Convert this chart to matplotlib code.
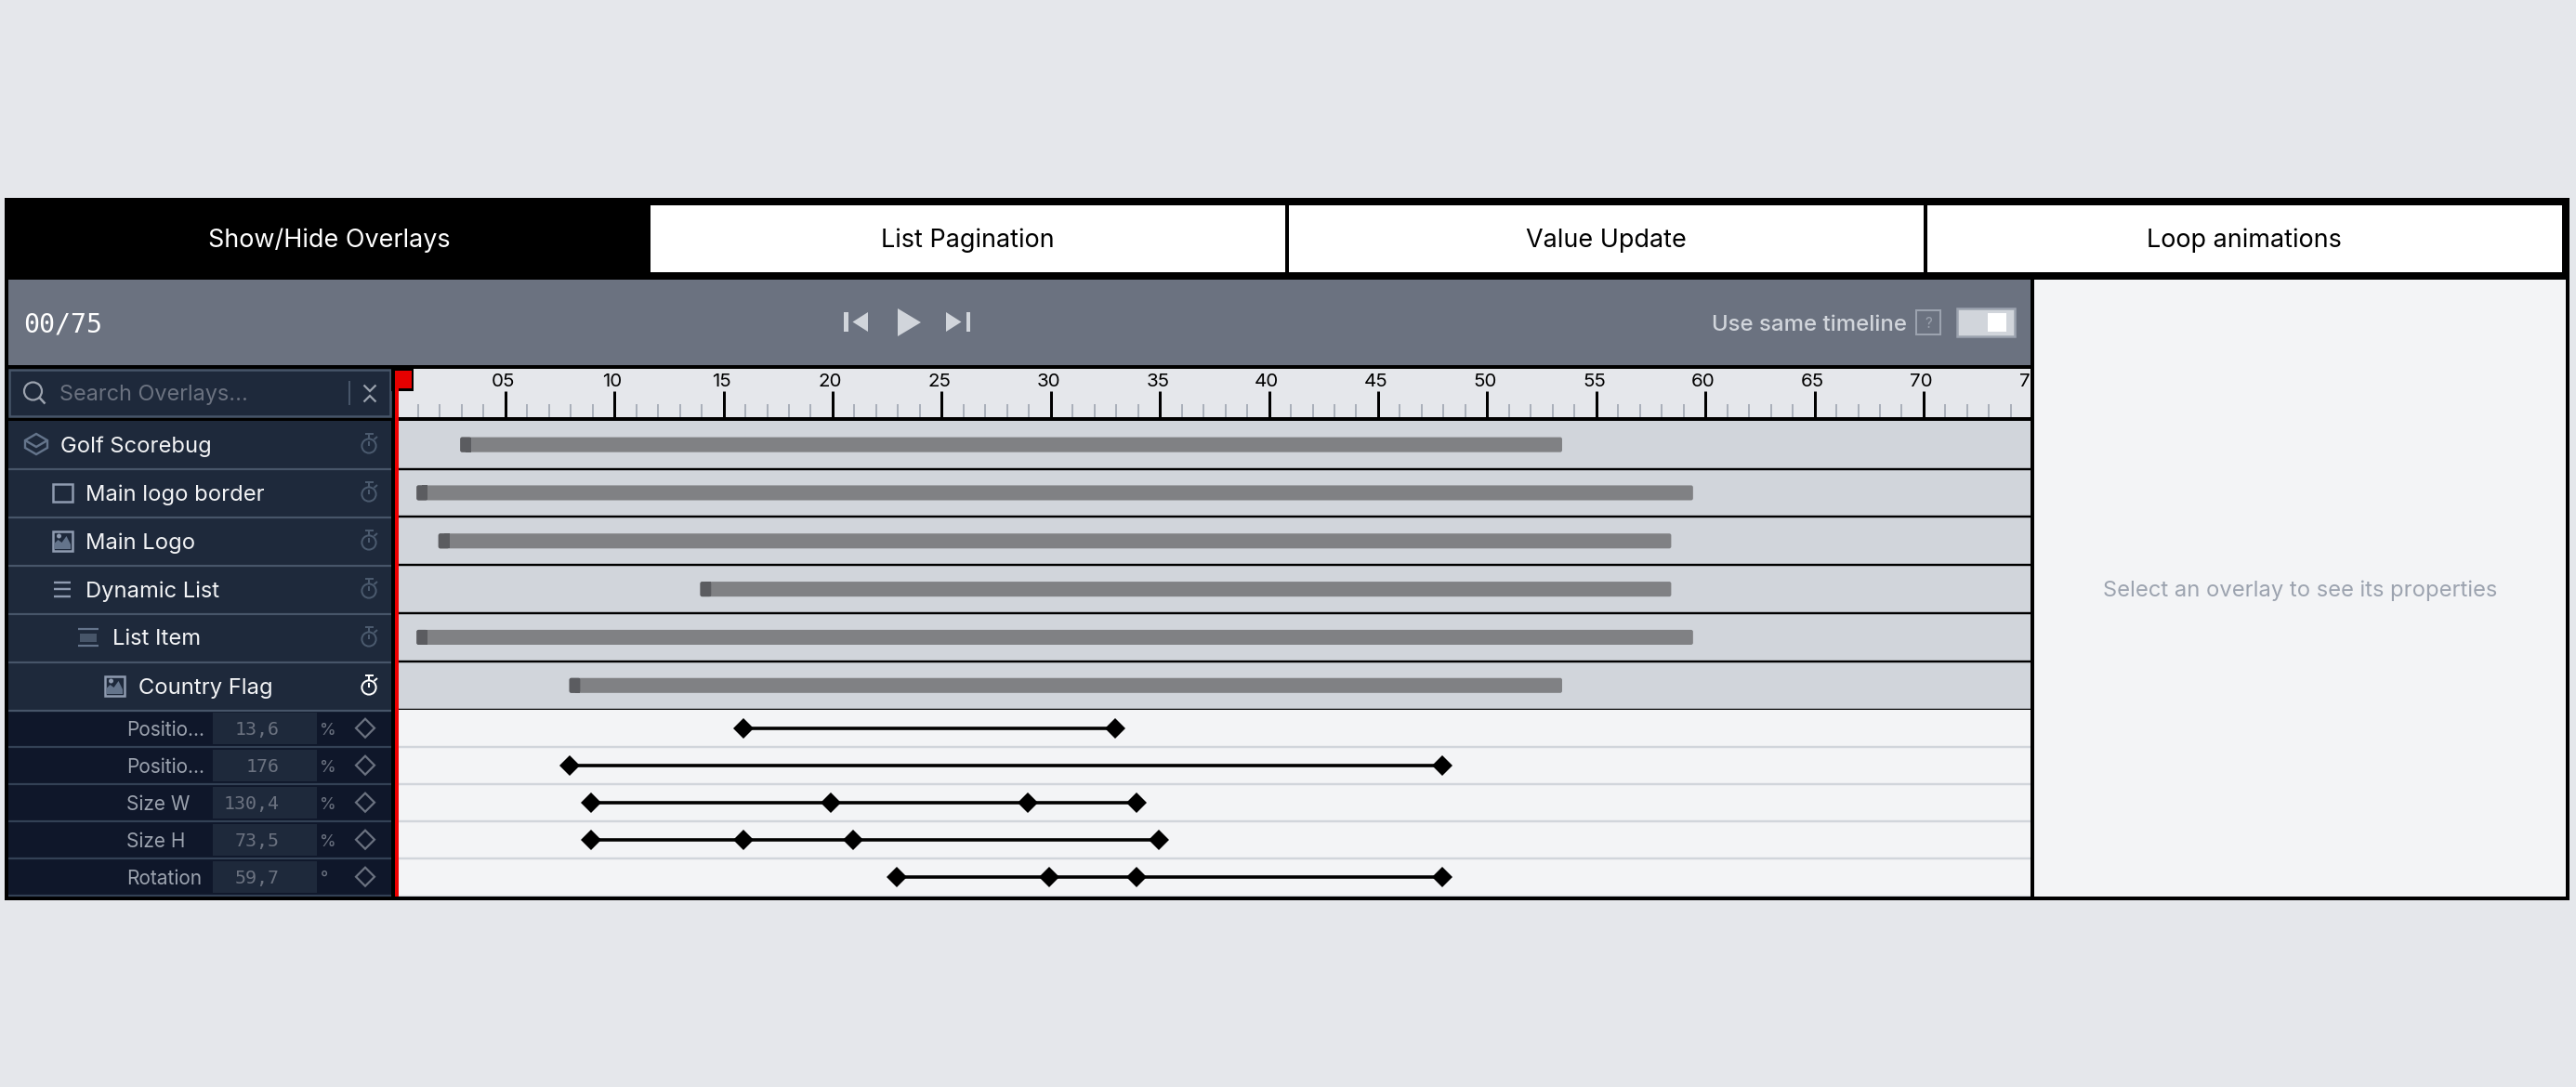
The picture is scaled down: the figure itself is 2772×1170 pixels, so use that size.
import matplotlib
matplotlib.use("Agg")
import matplotlib.pyplot as plt
from matplotlib.patches import Rectangle, Polygon, Circle, FancyBboxPatch
from matplotlib.transforms import ScaledTranslation

plt.rcParams['font.family'] = ['Inter', 'DejaVu Sans']

# ---------- data ----------
tab_names = ["Show/Hide Overlays", "List Pagination", "Value Update", "Loop animations"]
layer_names = ["Golf Scorebug", "Main logo border", "Main Logo", "Dynamic List", "List Item", "Country Flag"]
bar_starts = [3, 1, 2, 14, 1, 8]
bar_ends = [53.5, 59.5, 58.5, 58.5, 59.5, 53.5]
prop_names = ["Positio…", "Positio…", "Size W", "Size H", "Rotation"]
prop_values = ["13,6", "176", "130,4", "73,5", "59,7"]
prop_units = ["%", "%", "%", "%", "°"]
keyframes = [
    [16, 33],
    [8, 48],
    [9, 20, 29, 34],
    [9, 16, 21, 35],
    [23, 30, 34, 48],
]
major_ticks = list(range(5, 75, 5))
minor_ticks = [t for t in range(1, 75) if t % 5]
clipped_tick = 75
current_frame = 0
total_frames = 75

# ---------- layout ----------
W, H = 2772, 1170
DPI = 100
BG = '#e5e7eb'; PANEL = '#1e293b'; SUB = '#0f172a'; CTRL = '#6b7280'
GREY_ROW = '#d1d5db'; LIGHT = '#f3f4f6'; MUTED = '#9ca3af'; SEP = '#475569'
fig = plt.figure(figsize=(W / DPI, H / DPI), dpi=DPI, facecolor=BG)

def px(v):
    return v * 72 / DPI

def axes_px(x0, y0, x1, y1, **kw):
    return fig.add_axes([x0 / W, 1 - y1 / H, (x1 - x0) / W, (y1 - y0) / H], **kw)

ui = axes_px(0, 0, W, H, zorder=0)
ui.set_xlim(0, W); ui.set_ylim(H, 0); ui.axis('off')

def rect(x0, y0, x1, y1, fc, ec='none', lw=0, ax=ui, z=1):
    ax.add_patch(Rectangle((x0, y0), x1 - x0, y1 - y0, fc=fc, ec=ec, lw=px(lw), zorder=z))

def line(xs, ys, c, lw, z=3, ax=ui, cap='butt'):
    ax.plot(xs, ys, color=c, lw=px(lw), solid_capstyle=cap, solid_joinstyle='miter', zorder=z)

def label(x, y, s, size, c, ha='left', family=None, ax=ui, **kw):
    ax.text(x, y, s, fontsize=size, color=c, ha=ha, va='center_baseline',
            family=family if family else ['Inter', 'DejaVu Sans'], zorder=5, **kw)

# frame and header
rect(5, 213, 2765, 969, 'black')
tab_x = [(9, 696), (700, 1383), (1387, 2070), (2074, 2757)]
tab_cx = [354.5, 1041, 1728, 2415]
for i, name in enumerate(tab_names):
    if i:
        rect(tab_x[i][0], 221, tab_x[i][1], 293, 'white')
    label(tab_cx[i], 256, name, 19.45, 'white' if i == 0 else 'black', ha='center')

# control bar
rect(9, 301, 2185, 393, CTRL)
label(25, 347, f"{current_frame:02d}/{total_frames}", 20.3, 'white', family='DejaVu Sans Mono')
ctl = GREY_ROW
rect(908, 336, 913, 357, ctl)
ui.add_patch(Polygon([(934, 336), (934, 357), (917.5, 346.5)], fc=ctl, ec='none', zorder=3))
ui.add_patch(Polygon([(966, 332), (966, 362), (991, 347)], fc=ctl, ec='none', zorder=3))
ui.add_patch(Polygon([(1018, 336), (1018, 357), (1034.5, 346.5)], fc=ctl, ec='none', zorder=3))
rect(1039.5, 336, 1044, 357, ctl)
label(1842, 347, "Use same timeline", 17.3, ctl, fontweight='medium')
rect(2062, 334, 2088, 360, 'none', ec=MUTED, lw=2)
label(2075, 347, "?", 11, MUTED, ha='center')
rect(2106, 332, 2168, 362, GREY_ROW, ec=MUTED, lw=2.5)
rect(2139, 337, 2159, 357, 'white')

# right panel
rect(2189, 301, 2761, 965, LIGHT)
label(2475, 633, "Select an overlay to see its properties", 17.1, MUTED, ha='center')

# search box
rect(10, 398, 420, 448, PANEL, ec=SEP, lw=2.5)
ui.add_patch(Circle((35.5, 421), 9.5, fc='none', ec=MUTED, lw=px(2.2), zorder=3))
line([42.5, 48.5], [428, 434.5], MUTED, 2.5)
label(64, 423, "Search Overlays...", 16.9, CTRL)
line([376, 376], [410, 436], SEP, 2)
line([391.5, 398, 404.5], [414.5, 421, 414.5], MUTED, 2.2)
line([391.5, 398, 404.5], [432.5, 426, 432.5], MUTED, 2.2)

# layer rows
row_h = 52
row_top = 452.7
indents = [65, 92.5, 92.5, 92.5, 121, 149]
centers = [row_top + row_h * (i + .5) - .7 for i in range(6)]
for i, (name, cy) in enumerate(zip(layer_names, centers)):
    top = row_top + row_h * i
    rect(9, top, 421, top + row_h, PANEL)
    line([9, 421], [top + row_h, top + row_h], SEP, 2.2, z=2)
    label(indents[i], cy, name, 17.1, LIGHT)
    # stopwatch
    c = 'white' if i == 5 else '#4b5a6e'
    ui.add_patch(Circle((397, cy + 2), 7.6, fc='none', ec=c, lw=px(2), zorder=3))
    line([397, 397], [cy - 11, cy - 6], c, 2)
    line([392.5, 401.5], [cy - 11, cy - 11], c, 2)
    line([402.5, 406], [cy - 5, cy - 8], c, 2)
    line([397, 397], [cy - 3, cy + 2], c, 2)

# layer icons
ic = '#8f9bb0'; dim = '#64748b'
cy = centers[0]
ui.add_patch(Polygon([(39, cy - 11), (51, cy - 4), (51, cy + 4), (39, cy + 11), (27, cy + 4), (27, cy - 4)],
                     fc='none', ec=dim, lw=px(2.4), zorder=3))
line([27, 39, 51], [cy - 4, cy + 3, cy - 4], dim, 2.4)
cy = centers[1]
rect(56.5, cy - 9.5, 78, cy + 9.5, 'none', ec=ic, lw=2.5)

def image_icon(x0, x1, cy):
    rect(x0, cy - 10.5, x1, cy + 10.5, 'none', ec=ic, lw=2.5, z=3)
    ui.add_patch(Polygon([(x0 + 2, cy + 9), (x0 + 2, cy + 3), (x0 + 6, cy - 1), (x0 + 10, cy + 2), (x0 + 15, cy - 5),
                          (x1 - 2, cy + 4), (x1 - 2, cy + 9)], fc=dim, ec='none', zorder=3))
    ui.add_patch(Circle((x0 + 7, cy - 5), 2.5, fc=ic, ec='none', zorder=3))

image_icon(56.5, 78, centers[2])
cy = centers[3]
for dy in (-7.5, 0, 7.5):
    line([58, 76], [cy + dy, cy + dy], ic, 2.4)
cy = centers[4]
line([84, 106], [cy - 9.5, cy - 9.5], dim, 2.2)
line([84, 106], [cy + 9, cy + 9], dim, 2.2)
rect(86, cy - 4.5, 104, cy + 5, SEP, z=3)
image_icon(112.5, 134, centers[5])

# property rows
sub_h = 40
sub_top = 763.7
sub_centers = [sub_top + sub_h * (i + .5) for i in range(5)]
for i, cy in enumerate(sub_centers):
    top = sub_top + sub_h * i
    rect(9, top, 421, top + sub_h, SUB)
    line([9, 421], [top + sub_h, top + sub_h], '#334155', 2.2, z=2)
    label(136, cy, prop_names[i], 15, MUTED)
    rect(229, cy - 17, 340.5, cy + 17, PANEL)
    label(300.5, cy, prop_values[i], 14.4, CTRL, ha='right', family='DejaVu Sans Mono')
    label(344.5, cy + 1, prop_units[i], 13, CTRL)
    ui.add_patch(Polygon([(393, cy - 10), (403, cy), (393, cy + 10), (383, cy)], fc='none', ec=CTRL,
                         lw=px(2.2), zorder=3))

# ---------- ruler ----------
PX_PER_FRAME = 23.48
R0 = 426.35
RULER_PAD = 23
ruler = axes_px(429, 397, 2185, 449, zorder=2, facecolor=BG)
ruler.set_xlim((429 - R0) / PX_PER_FRAME, (2185 - R0) / PX_PER_FRAME)
ruler.set_ylim(0, 1)
for s in ruler.spines.values():
    s.set_visible(False)
ruler.set_yticks([])
ruler.set_xticks(major_ticks, [f"{t:02d}" for t in major_ticks])
ruler.set_xticks(minor_ticks, minor=True)
ruler.tick_params(axis='x', which='major', direction='in', length=px(28), width=px(3), color='black',
                  bottom=True, top=False, labelbottom=False, labeltop=True, labelsize=14.8, pad=-px(RULER_PAD))
ruler.tick_params(axis='x', which='minor', direction='in', length=px(14), width=px(1.6), color=MUTED,
                  bottom=True, top=False)
off = ScaledTranslation(-2.4 / DPI, 0, fig.dpi_scale_trans)
for lab in ruler.get_xticklabels():
    lab.set_transform(lab.get_transform() + off)
ruler.text(clipped_tick, 1, str(clipped_tick), fontsize=14.8, ha='center', va='bottom', clip_on=True,
           transform=ruler.get_xaxis_transform() + ScaledTranslation(-2.4 / DPI, -RULER_PAD / DPI, fig.dpi_scale_trans))

# ---------- tracks ----------
T0 = 424.8
xlim = ((429 - T0) / PX_PER_FRAME, (2185 - T0) / PX_PER_FRAME)
tracks = axes_px(429, row_top, 2185, sub_top, zorder=2, facecolor=GREY_ROW)
tracks.set_xlim(*xlim); tracks.set_ylim(len(layer_names) - .5, -.5); tracks.axis('off')
tracks.add_patch(Rectangle((0, 0), 1, 1, transform=tracks.transAxes, fc=GREY_ROW, ec='none', zorder=0))
y_rows = list(range(len(layer_names)))
handle = 0.5
bar_h = 0.31
aspect = PX_PER_FRAME / row_h
for y, s, e in zip(y_rows, bar_starts, bar_ends):
    tracks.add_patch(FancyBboxPatch((s, y - bar_h / 2), e - s, bar_h, boxstyle='round,pad=0,rounding_size=0.09',
                                    mutation_aspect=aspect, fc='#808184', ec='none', zorder=2))
    tracks.add_patch(FancyBboxPatch((s, y - bar_h / 2), handle, bar_h, boxstyle='round,pad=0,rounding_size=0.09',
                                    mutation_aspect=aspect, fc='#5b5c60', ec='none', zorder=3))
    tracks.add_patch(Rectangle((s + handle / 2, y - bar_h / 2), handle / 2, bar_h, fc='#5b5c60', ec='none', zorder=3))
for i in y_rows:
    tracks.axhline(i + .5, color='black', lw=px(2.4), zorder=4)

kf = axes_px(429, sub_top, 2185, 964.5, zorder=2, facecolor=LIGHT)
kf.set_xlim(*xlim); kf.set_ylim(len(keyframes) - .5, -.5); kf.axis('off')
kf.add_patch(Rectangle((0, 0), 1, 1, transform=kf.transAxes, fc=LIGHT, ec='none', zorder=0))
for i, frames in enumerate(keyframes):
    kf.plot(frames, [i] * len(frames), color='black', lw=px(3.6), marker='D', ms=px(15), mfc='black', mec='black',
            mew=0, zorder=3)
    kf.axhline(i + .5, color=GREY_ROW, lw=px(2.4), zorder=1)

# ---------- playhead (on top) ----------
top = axes_px(0, 0, W, H, zorder=5)
top.set_xlim(0, W); top.set_ylim(H, 0); top.axis('off'); top.patch.set_alpha(0)
rect(421, 393, 445, 420.5, 'black', ax=top)
rect(425, 398.5, 443, 418, '#e60000', ax=top, z=2)
rect(425, 418, 429, 965, '#ee0000', ax=top, z=2)

fig.savefig('out.png', dpi=DPI, facecolor=BG)
